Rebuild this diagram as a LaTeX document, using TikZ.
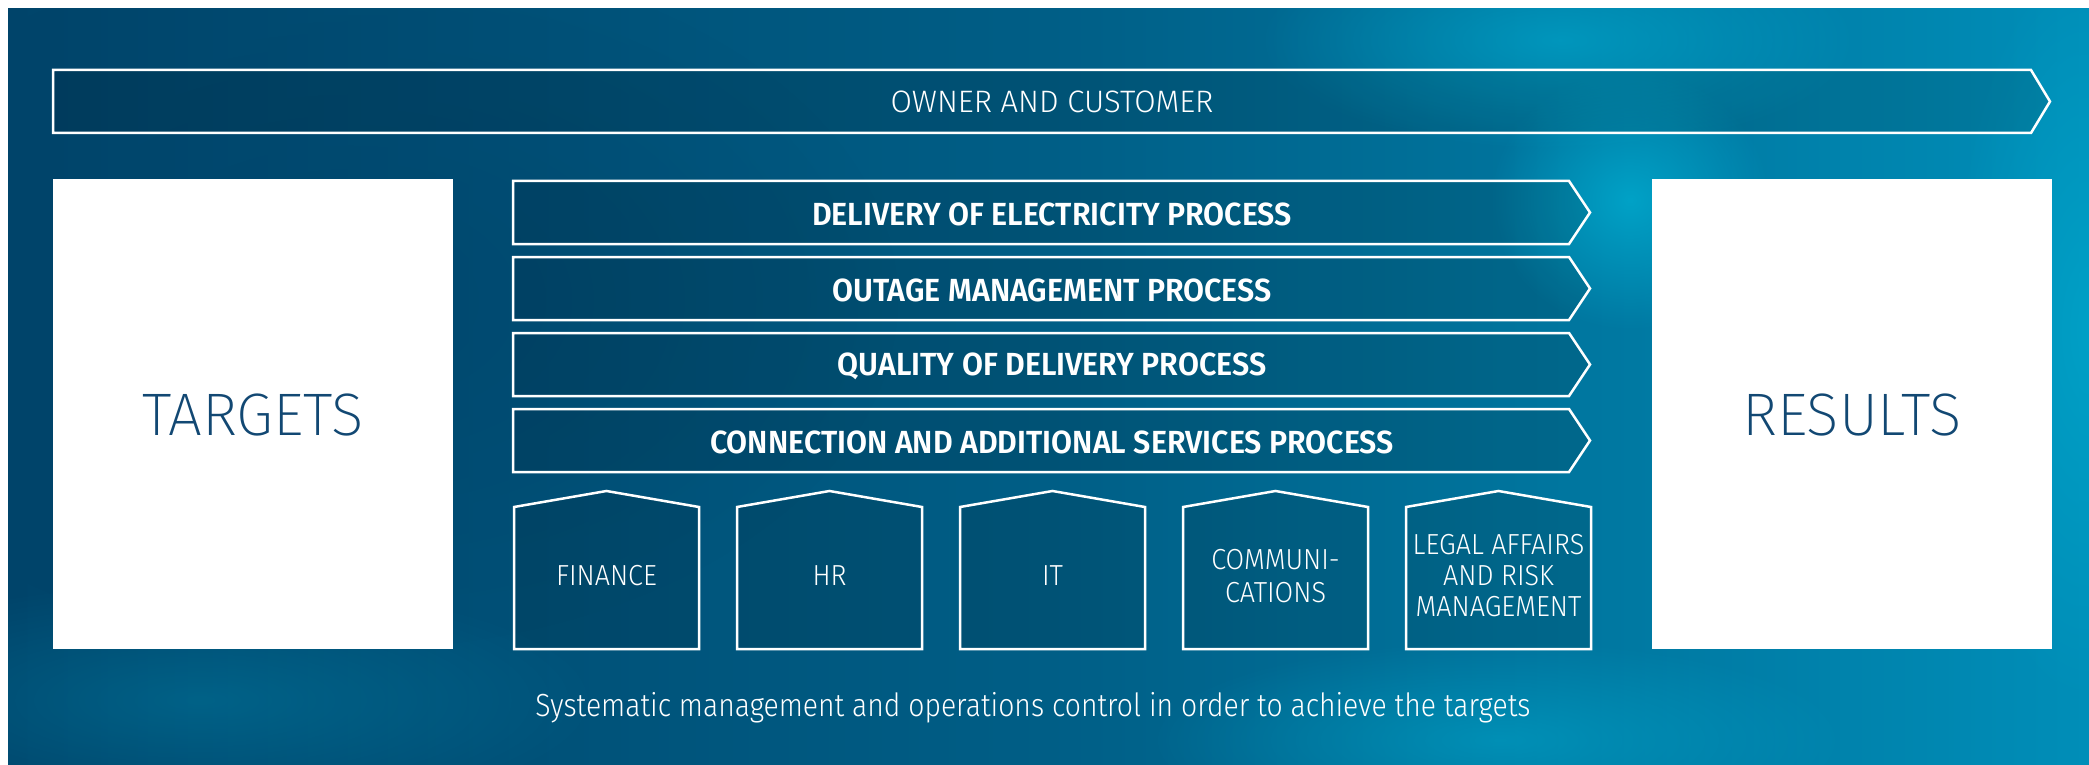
\documentclass[tikz,border=0pt]{standalone}
\usepackage{fontspec}
\usetikzlibrary{fadings}
\newfontfamily\lightf{Fira Sans}[UprightFont=* Light, FakeStretch=0.93]
\newfontfamily\textf{Fira Sans}[UprightFont=* Light, FakeStretch=0.885]
\newfontfamily\ownerf{Fira Sans}[UprightFont=* Light]
\newfontfamily\thinf{Fira Sans}[UprightFont=* ExtraLight]
\newfontfamily\boldf{Fira Sans}[UprightFont=* SemiBold, FakeStretch=0.95]
\definecolor{bgdark}{RGB}{0,68,106}
\definecolor{bgmid}{RGB}{0,94,134}
\definecolor{bglight}{RGB}{0,142,184}
\definecolor{glow}{RGB}{0,172,208}
\definecolor{boxtext}{RGB}{18,72,115}
\tikzfading[name=softglow, inner color=transparent!0, outer color=transparent!100]
\tikzset{
  outline/.style={draw=white, line width=2.5pt, line join=miter, fill=black, fill opacity=0.12},
  proclabel/.style={text=white, font=\boldf\fontsize{32}{36}\selectfont},
  houselabel/.style={text=white, align=center, font=\lightf\fontsize{29}{32}\selectfont},
  bigbox/.style={fill=white, draw=none},
  biglabel/.style={text=boxtext, font=\thinf\fontsize{60}{66}\selectfont},
  glowspot/.style={fill=glow, path fading=softglow},
}
\begin{document}
\begin{tikzpicture}[x=1pt,y=-1pt]
\useasboundingbox (0,0) rectangle (2089,765);
\fill[white] (0,0) rectangle (2089,765);
% background
\shade[left color=bgdark, right color=bglight, middle color=bgmid] (8,9) rectangle (2089,765);
\begin{scope}
\clip (8,9) rectangle (2089,765);
\fill[glowspot, fill opacity=0.8] (1630,200) ellipse (140 and 130);
\fill[glowspot, fill opacity=0.6] (1560,40) ellipse (300 and 110);
\fill[glowspot, fill opacity=0.6] (2089,330) ellipse (140 and 380);
\fill[glowspot, fill opacity=0.5] (1500,740) ellipse (350 and 100);
\fill[bgdark, path fading=softglow, fill opacity=0.6] (350,300) ellipse (550 and 350);
\fill[glowspot, fill opacity=0.25] (200,700) ellipse (400 and 120);
\end{scope}
% owner and customer
\draw[outline] (53,70) -- (2031,70) -- (2050,101.5) -- (2031,133) -- (53,133) -- cycle;
\node[text=white, font=\ownerf\fontsize{31}{34}\selectfont] (owner) at (1052,101.5) {OWNER AND CUSTOMER};
% targets / results
\fill[bigbox] (53,179) rectangle (453,649);
\node[biglabel] (targets) at (253,415) {TARGETS};
\fill[bigbox] (1652,179) rectangle (2052,649);
\node[biglabel] (results) at (1852,415) {RESULTS};
% processes
\foreach \t/\n/\lab in {181/p1/DELIVERY OF ELECTRICITY PROCESS,257/p2/OUTAGE MANAGEMENT PROCESS,333/p3/QUALITY OF DELIVERY PROCESS,409/p4/CONNECTION AND ADDITIONAL SERVICES PROCESS}{
  \draw[outline] (513,\t) -- (1569,\t) -- (1590,\t+31.5) -- (1569,\t+63) -- (513,\t+63) -- cycle;
  \node[proclabel] (\n) at (1052,\t+33.5) {\lab};
}
% houses
\foreach \cx in {606.5,829.5,1052.5,1275.5,1498.5}{
  \draw[outline] (\cx-92.5,649) -- (\cx-92.5,507) -- (\cx,491) -- (\cx+92.5,507) -- (\cx+92.5,649) -- cycle;
}
\node[houselabel] (finance) at (606.5,576) {FINANCE};
\node[houselabel] (hr) at (829.5,576) {HR};
\node[houselabel] (it) at (1052.5,576) {IT};
\node[houselabel] (comm) at (1275.5,576) {COMMUNI-\\[1pt]CATIONS};
\node[houselabel] (legal) at (1498.5,576) {LEGAL AFFAIRS\\[-1pt]AND RISK\\[-1pt]MANAGEMENT};
% bottom text
\node[text=white, font=\textf\fontsize{32}{36}\selectfont] (bottom) at (1033,708) {Systematic management and operations control in order to achieve the targets};
\end{tikzpicture}
\end{document}
